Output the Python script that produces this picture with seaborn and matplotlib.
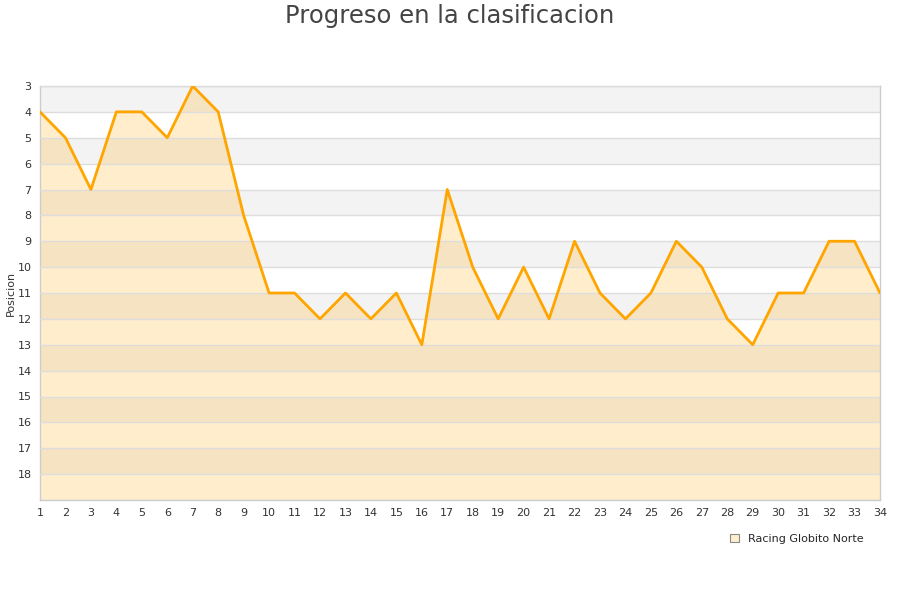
import numpy as np
import pandas as pd
import matplotlib
matplotlib.use("Agg")
import matplotlib.pyplot as plt
import seaborn as sns
from matplotlib.patches import Patch

# Data
jornadas = list(range(1, 35))
posiciones = [4, 5, 7, 4, 4, 5, 3, 4, 8, 11, 11, 12, 11, 12, 11, 13, 7, 10, 12, 10,
              12, 9, 11, 12, 11, 9, 10, 12, 13, 11, 11, 9, 9, 11]
equipo = "Racing Globito Norte"
titulo = "Progreso en la clasificacion"

df = pd.DataFrame({"jornada": jornadas, "posicion": posiciones})

sns.set_style("white")
plt.rcParams['font.family'] = ['DejaVu Sans']

fig = plt.figure(figsize=(9, 6), dpi=100)
ax = fig.add_axes([40 / 900, 100 / 600, 840 / 900, 414 / 600])

# Alternating grey bands
for y0 in range(3, 19, 2):
    ax.axhspan(y0, y0 + 1, color="#f3f3f3", zorder=0, lw=0)
for y in range(3, 20):
    ax.axhline(y, color="#dddddd", lw=1, zorder=3)

ax.fill_between(df["jornada"], df["posicion"], 19, color="#ffa500", alpha=0.2, lw=0, zorder=2)
sns.lineplot(data=df, x="jornada", y="posicion", color="#ffa500", lw=2, ax=ax, zorder=4)

ax.set_xlim(1, 34)
ax.set_ylim(19, 3)
ax.set_xticks(jornadas)
ax.set_yticks(range(3, 19))
ax.tick_params(axis="both", length=0, labelsize=8, labelcolor="#333333", pad=6)
ax.set_xlabel("")
ax.set_ylabel("Posicion", fontsize=8, color="#333333", labelpad=1)
for s in ax.spines.values():
    s.set_color("#cccccc")
    s.set_linewidth(1)

fig.text(0.5, 1 - 16 / 600, titulo, ha="center", va="center", fontsize=17.5, color="#444444")

handle = Patch(facecolor="#ffedcc", edgecolor="#888888", lw=0.8)
fig.legend([handle], [equipo], loc="center", bbox_to_anchor=(797 / 900, 1 - 539 / 600),
           frameon=False, fontsize=8, handlelength=0.8, handleheight=0.8, handletextpad=0.8)

fig.savefig("out.png", dpi=100)
